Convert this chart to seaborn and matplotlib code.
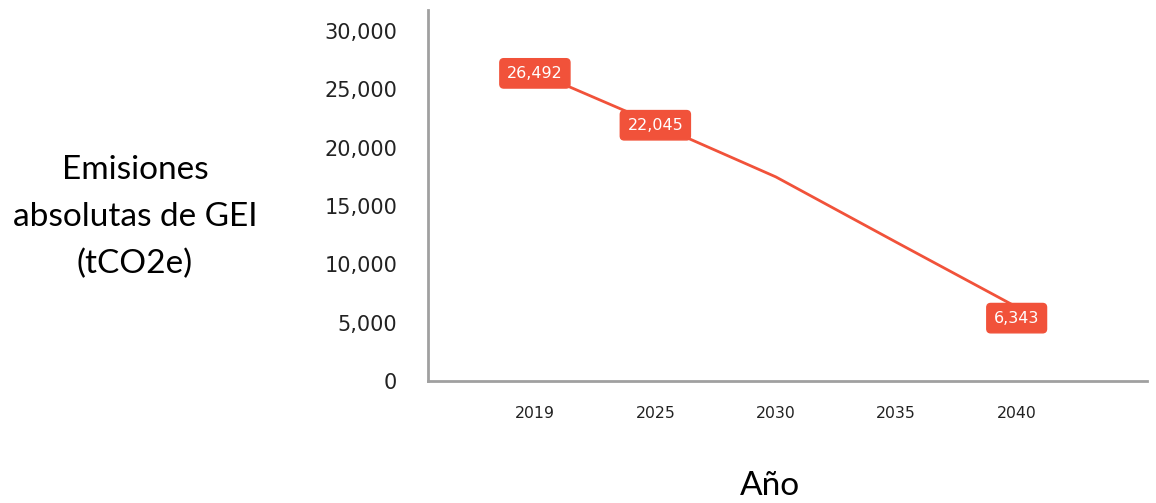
import matplotlib
matplotlib.use("Agg")
import matplotlib.pyplot as plt
import matplotlib.ticker as mticker
import seaborn as sns
import pandas as pd

# Data
years = ["2019", "2025", "2030", "2035", "2040"]
emissions = [26492, 22045, 17500, 11900, 6343]
labeled_years = ["2019", "2025", "2040"]
y_ticks = [0, 5000, 10000, 15000, 20000, 25000, 30000]

RED = "#F1523A"

sns.set_theme(style="white")
plt.rcParams["font.family"] = ["DejaVu Sans"]

df = pd.DataFrame({"year": years, "emissions": emissions})

fig = plt.figure(figsize=(11.56, 5.03), dpi=100)
ax = fig.add_axes([0.370, 0.2425, 0.622, 0.7375])

sns.lineplot(data=df, x="year", y="emissions", ax=ax, color=RED, linewidth=2, sort=False)

ax.set_xlim(-0.89, 5.08)
ax.set_ylim(0, 31800)
ax.set_yticks(y_ticks)
ax.yaxis.set_major_formatter(mticker.FuncFormatter(lambda v, p: f"{int(v):,}"))
ax.tick_params(axis="y", length=0, pad=22, labelsize=15, labelcolor="#222222")
ax.tick_params(axis="x", length=0, pad=18, labelsize=11.3, labelcolor="#222222")
ax.set_xlabel("")
ax.set_ylabel("")

for side in ["top", "right"]:
    ax.spines[side].set_visible(False)
for side in ["left", "bottom"]:
    ax.spines[side].set_color("#A0A0A0")
    ax.spines[side].set_linewidth(2)

offsets = {"2019": -1, "2025": -1, "2040": -8}
for i, (yr, val) in enumerate(zip(years, emissions)):
    if yr in labeled_years:
        ax.annotate(f"{val:,}", xy=(i, val), xytext=(0, offsets[yr]),
                    textcoords="offset points", ha="center", va="center",
                    fontsize=11.5, color="white", zorder=5,
                    bbox=dict(boxstyle="round,pad=0.45,rounding_size=0.25",
                              fc=RED, ec=RED))

fig.text(135 / 1156, 1 - 217 / 503, "Emisiones\nabsolutas de GEI\n(tCO2e)",
         ha="center", va="center", fontsize=24, family="Lato",
         linespacing=1.7, color="black")
fig.text(770 / 1156, 1 - 486 / 503, "Año", ha="center", va="center",
         fontsize=24, family="Lato", color="black")

fig.savefig("out.png", dpi=100)
